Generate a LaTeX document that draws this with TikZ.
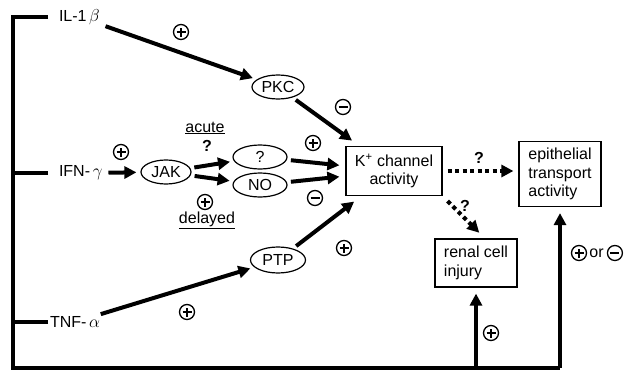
\documentclass[tikz,border=0pt]{standalone}
\usepackage{fontspec}
\setmainfont{Liberation Sans}
\usetikzlibrary{arrows.meta, positioning, shapes.geometric}

\begin{document}
\begin{tikzpicture}[
    x=1pt, y=-1pt,
    >={Triangle[length=12pt, width=12pt]},
    font=\fontsize{16}{18.5}\selectfont,
    oval/.style={ellipse, draw, line width=1.2pt, minimum width=52pt, minimum height=24pt, inner sep=1pt},
    box/.style={draw, line width=1.2pt, inner sep=4pt},
    lbl/.style={inner sep=1pt, outer xsep=1pt},
    arr/.style={->, line width=4pt, shorten <=4pt, shorten >=4pt},
    dotarr/.style={->, line width=4pt, dash pattern=on 4pt off 3.5pt, shorten <=5pt, shorten >=5pt},
    bar/.style={line width=4pt, line join=miter, shorten <=9pt},
    signcirc/.style={circle, draw, line width=1.3pt, minimum size=15pt, inner sep=0pt},
    plussign/.style={signcirc, path picture={
        \draw[line width=1.6pt] ([xshift=-4.5pt]path picture bounding box.center) -- ([xshift=4.5pt]path picture bounding box.center)
            ([yshift=-4.5pt]path picture bounding box.center) -- ([yshift=4.5pt]path picture bounding box.center);}},
    minussign/.style={signcirc, path picture={
        \draw[line width=1.6pt] ([xshift=-4.5pt]path picture bounding box.center) -- ([xshift=4.5pt]path picture bounding box.center);}}
]
\useasboundingbox (0,0) rectangle (629,372);

% === Citoquinas ===
\node[lbl, anchor=west] (il1) at (57,17) {IL-1\,$\beta$};
\node[lbl, anchor=west] (ifn) at (57,173) {IFN-\,$\gamma$};
\node[lbl, anchor=west] (tnf) at (48,322) {TNF-\,$\alpha$};

% === Mediadores ===
\node[oval] (pkc) at (278,87) {PKC};
\node[oval, minimum width=50pt] (jak) at (166,172) {JAK};
\node[oval, minimum width=54pt] (unk) at (260,157) {?};
\node[oval, minimum width=54pt] (no) at (260,185) {NO};
\node[oval, minimum width=55pt, minimum height=26pt] (ptp) at (278,260) {PTP};

% === Efectos ===
\node[box, align=center, minimum width=96pt, minimum height=49pt] (kch) at (394,171) {K\textsuperscript{+} channel\\activity};
\node[box, align=left, minimum width=82pt, minimum height=65pt] (epi) at (560,174) {epithelial\\transport\\activity};
\node[box, align=left, minimum width=82pt, minimum height=48pt] (ren) at (476,263) {renal cell\\injury};

% Esquinas del marco
\coordinate (tl) at (13,17);
\coordinate (bl) at (13,368);
\coordinate (br) at (epi.south |- bl);
\coordinate (bm) at (ren.south |- bl);

% === Marco ===
\draw[bar] (il1.west) -- (tl) -- (bl) -- (br);
\draw[bar] (ifn.west) -- (ifn.west -| tl);
\draw[bar, shorten <=0pt] (tnf.west) -- (tnf.west -| tl);
\draw[->, line width=4pt, shorten >=6pt] (br) -- (epi.south);
\draw[->, line width=4pt, shorten >=6pt] (bm) -- (ren.south);

% === Flechas ===
\draw[arr] (il1) -- (pkc);
\draw[arr, shorten >=9pt] (pkc) -- (kch);
\draw[arr] (ifn) -- (jak);
\draw[arr] (jak) -- (unk);
\draw[arr] (jak) -- (no);
\draw[arr, shorten >=6pt] (unk) -- (kch);
\draw[arr, shorten >=6pt] (no) -- (kch);
\draw[arr] (tnf) -- (ptp);
\draw[arr, shorten >=9pt] (ptp) -- (kch);
\draw[dotarr] (kch.east) -- (kch.east -| epi.west);
\draw[dotarr, shorten <=7pt, shorten >=8pt] (kch.south east) -- (ren.70);

% === Signos ===
\node[plussign] (s1) at (181,32) {};
\node[minussign] (s2) at (343,107) {};
\node[plussign] (s3) at (121,152) {};
\node[plussign] (s4) at (205,202) {};
\node[plussign] (s5) at (313,143) {};
\node[minussign] (s6) at (315,198) {};
\node[plussign] (s7) at (344,248) {};
\node[plussign] (s8) at (187,312) {};
\node[plussign] (s9) at (491,333) {};
\node[plussign] (s10) at (579,253) {};
\node[right=1pt of s10, inner sep=1pt] (orr) {or};
\node[minussign, right=2pt of orr] (s11) {};

% Textos
\node (acute) at (205,128) {\underline{acute}};
\node (q1) at (207,146) {\textbf{?}};
\node (delay) at (207,220) {\underline{delayed}};
\node (q2) at (479,158) {\textbf{?}};
\node (q3) at (465,206) {\textbf{?}};

\end{tikzpicture}
\end{document}
